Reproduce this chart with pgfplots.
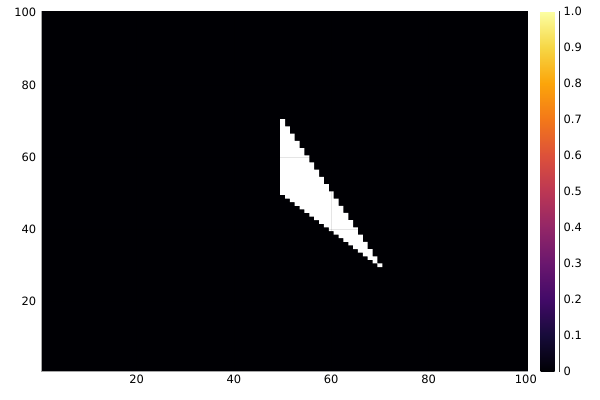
\documentclass[border=0pt]{standalone}
\usepackage{pgfplots}
\pgfplotsset{compat=1.18}
\usepackage{fontspec}
\setmainfont{DejaVu Sans}

\definecolor{inf0}{RGB}{0,0,4}
\pgfplotsset{
  colormap={inferno}{rgb255=(0,0,4) rgb255=(22,11,57) rgb255=(66,10,104)
    rgb255=(106,23,110) rgb255=(147,38,103) rgb255=(188,55,84)
    rgb255=(221,81,58) rgb255=(243,120,25) rgb255=(252,165,10)
    rgb255=(246,215,70) rgb255=(252,255,164)},
}

\begin{document}
\begin{tikzpicture}[font=\fontsize{11.5}{13}\selectfont]
\path[use as bounding box] (0,0) rectangle (600bp,400bp);
\begin{axis}[
  at={(41.7bp,28.3bp)}, anchor=south west,
  scale only axis, width=486.6bp, height=360.7bp,
  xmin=0.5, xmax=100.5, ymin=0.5, ymax=100.5,
  axis x line*=bottom, axis y line*=left,
  axis line style={black!35, line width=0.6bp, -},
  xtick={20,40,60,80,100}, ytick={20,40,60,80,100},
  xticklabels={20,40,60,80,100}, yticklabels={20,40,60,80,100},
  yticklabel style={xshift=-2bp},
  tick style={draw=none},
  grid=major, grid style={black, opacity=0.1, line width=0.5bp},
  axis on top,
  colormap name=inferno,
  point meta min=0, point meta max=1,
  colorbar,
  colorbar style={
    at={(parent axis.north east)}, anchor=north west, xshift=3.7bp,
    scale only axis, width=16bp, height=360.7bp,
    ymin=0, ymax=1,
    ytick={0,0.1,0.2,0.3,0.4,0.5,0.6,0.7,0.8,0.9,1},
    yticklabels={0,0.1,0.2,0.3,0.4,0.5,0.6,0.7,0.8,0.9,1.0},
    axis x line=none, axis y line*=right, axis y line shift=3bp,
    axis line style={black!80, line width=0.5bp, -},
    ytick style={black!80, line width=0.5bp},
    tick align=outside, major tick length=3bp,
    yticklabel style={font=\fontsize{11.5}{13}\selectfont, inner xsep=1bp},
  },
]
% value 0 everywhere
\addplot[fill=inf0, draw=none] coordinates {
  (0.5,0.5) (100.5,0.5) (100.5,100.5) (0.5,100.5)
} -- cycle;
% blank (NaN) cells
\addplot[fill=white, draw=none] coordinates {
  (49.5,70.5) (50.5,70.5) (50.5,68.5) (51.5,68.5) (51.5,66.5) (52.5,66.5)
  (52.5,64.5) (53.5,64.5) (53.5,62.5) (54.5,62.5) (54.5,60.5) (55.5,60.5)
  (55.5,58.5) (56.5,58.5) (56.5,56.5) (57.5,56.5) (57.5,54.5) (58.5,54.5)
  (58.5,52.5) (59.5,52.5) (59.5,50.5) (60.5,50.5) (60.5,48.5) (61.5,48.5)
  (61.5,46.5) (62.5,46.5) (62.5,44.5) (63.5,44.5) (63.5,42.5) (64.5,42.5)
  (64.5,40.5) (65.5,40.5) (65.5,38.5) (66.5,38.5) (66.5,36.5) (67.5,36.5)
  (67.5,34.5) (68.5,34.5) (68.5,32.5) (69.5,32.5) (69.5,30.5) (70.5,30.5)
  (70.5,29.5) (69.5,29.5) (69.5,30.5) (68.5,30.5) (68.5,31.5) (67.5,31.5)
  (67.5,32.5) (66.5,32.5) (66.5,33.5) (65.5,33.5) (65.5,34.5) (64.5,34.5)
  (64.5,35.5) (63.5,35.5) (63.5,36.5) (62.5,36.5) (62.5,37.5) (61.5,37.5)
  (61.5,38.5) (60.5,38.5) (60.5,39.5) (59.5,39.5) (59.5,40.5) (58.5,40.5)
  (58.5,41.5) (57.5,41.5) (57.5,42.5) (56.5,42.5) (56.5,43.5) (55.5,43.5)
  (55.5,44.5) (54.5,44.5) (54.5,45.5) (53.5,45.5) (53.5,46.5) (52.5,46.5)
  (52.5,47.5) (51.5,47.5) (51.5,48.5) (50.5,48.5) (50.5,49.5) (49.5,49.5)
} -- cycle;
\end{axis}
\end{tikzpicture}
\end{document}
